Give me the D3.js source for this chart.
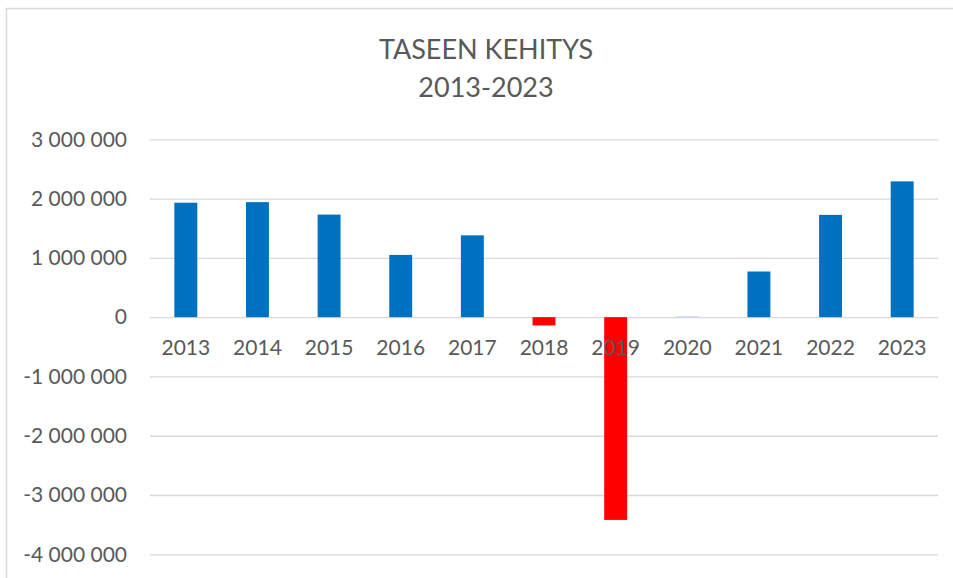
<!DOCTYPE html>
<html>
<head>
<meta charset="utf-8">
<script src="https://cdn.jsdelivr.net/npm/d3@7"></script>
<style>
  body { margin: 0; background: #fff; }
  text { font-family: Lato, 'Open Sans', sans-serif; fill: #595959; }
</style>
</head>
<body>
<div id="chart"></div>
<script>
// data
const years = ['2013', '2014', '2015', '2016', '2017', '2018', '2019', '2020', '2021', '2022', '2023']
const balance = [1930000, 1940000, 1730000, 1050000, 1380000, -140000, -3420000, 15000, 770000, 1725000, 2290000]
const yTicks = [3000000, 2000000, 1000000, 0, -1000000, -2000000, -3000000, -4000000]
const titleLines = ['TASEEN KEHITYS', '2013-2023']

const W = 953, H = 578
const margin = { top: 139.3, left: 150, right: 15, bottom: 578 - 554.3 }
const width = W - margin.left - margin.right
const height = H - margin.top - margin.bottom

const svg = d3.select('#chart').append('svg')
  .attr('width', W).attr('height', H)

// chart area border
svg.append('rect')
  .attr('x', 6.5).attr('y', 8.5)
  .attr('width', 1000).attr('height', 700)
  .attr('fill', 'none')
  .attr('stroke', '#d9d9d9')
  .attr('stroke-width', 1.5)

svg.selectAll('.title')
  .data(titleLines)
  .enter()
  .append('text')
  .attr('class', 'title')
  .attr('x', 486)
  .attr('y', (d, i) => 59 + i * 38)
  .attr('text-anchor', 'middle')
  .attr('font-size', '27px')
  .text(d => d)

const g = svg.append('g')
  .attr('transform', 'translate(' + margin.left + ',' + margin.top + ')')

const x = d3.scaleBand()
  .domain(years)
  .range([0, width])
  .paddingInner(0.68)
  .paddingOuter(0.34)

const y = d3.scaleLinear()
  .domain([-4000000, 3000000])
  .range([height, 0])

const locale = d3.formatLocale({ decimal: ',', thousands: ' ', grouping: [3], currency: ['', ''], minus: '-' })
const fmt = locale.format(',d')

const yAxis = d3.axisLeft(y)
  .tickValues(yTicks)
  .tickSize(-width)
  .tickPadding(23)
  .tickFormat(fmt)

g.append('g')
  .attr('class', 'y-axis')
  .call(yAxis)
  .call(a => a.select('.domain').remove())
  .call(a => a.selectAll('line').attr('stroke', '#d9d9d9').attr('stroke-width', 1.3))
  .call(a => a.selectAll('text').attr('font-size', '21px').style('font-family', null).attr('fill', '#595959'))

g.selectAll('.bar')
  .data(balance)
  .enter()
  .append('rect')
  .attr('class', 'bar')
  .attr('x', (d, i) => x(years[i]))
  .attr('width', x.bandwidth())
  .attr('y', d => y(Math.max(0, d)))
  .attr('height', d => Math.max(1, Math.abs(y(d) - y(0))))
  .attr('fill', d => d < 0 ? '#ff0000' : (d < 50000 ? '#bdd7ee' : '#0070c0'))

const xAxis = d3.axisBottom(x)
  .tickSize(0)
  .tickPadding(23)

g.append('g')
  .attr('class', 'x-axis')
  .attr('transform', 'translate(0,' + y(0) + ')')
  .call(xAxis)
  .call(a => a.select('.domain').remove())
  .call(a => a.selectAll('text').attr('font-size', '21px').style('font-family', null).attr('fill', '#595959'))
</script>
</body>
</html>
